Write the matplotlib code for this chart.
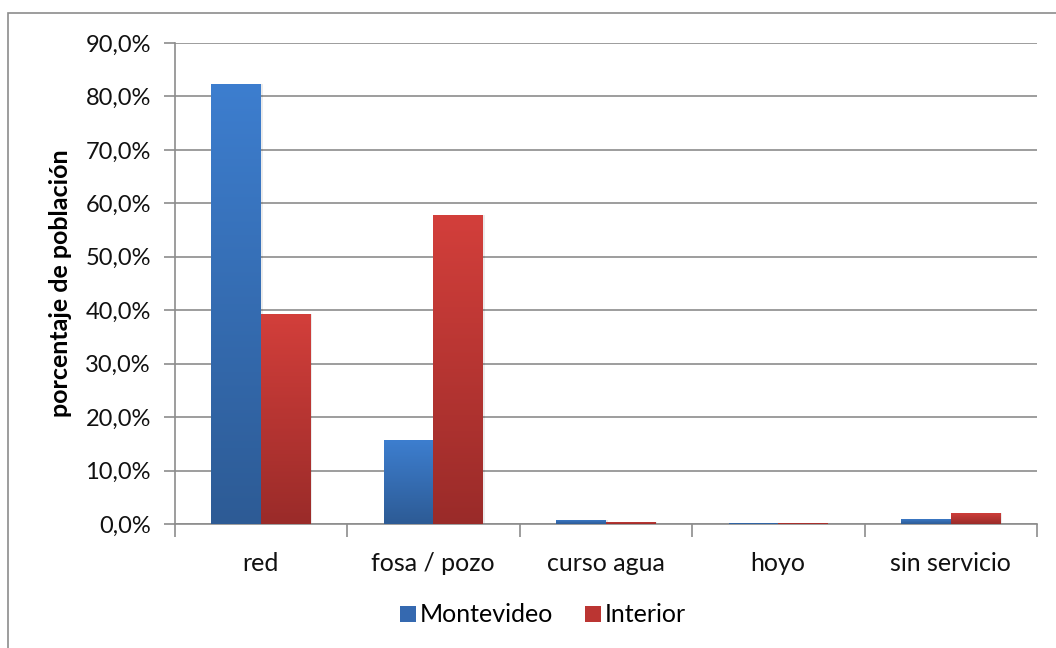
import matplotlib.pyplot as plt
import numpy as np
from matplotlib.colors import LinearSegmentedColormap
from matplotlib.patches import Rectangle
from matplotlib.ticker import FuncFormatter

plt.rcParams['font.family'] = ['Lato', 'DejaVu Sans']

categorias = ['red', 'fosa / pozo', 'curso agua', 'hoyo', 'sin servicio']
montevideo = [82.4, 15.7, 0.8, 0.2, 1.0]
interior = [39.3, 57.9, 0.4, 0.2, 2.1]
series = ['Montevideo', 'Interior']

W, H = 1056, 648
fig = plt.figure(figsize=(W / 100, H / 100), dpi=100)

# outer chart frame (only left/top visible in the picture)
fig.patches.append(Rectangle((8 / W, -0.1), 2, 1.1 - 13 / H, transform=fig.transFigure,
                             fill=False, edgecolor='#8c8c8c', linewidth=1.2))

x0, x1, ytop, ybot = 174.5, 1037.0, 43.0, 524.0
ax = fig.add_axes([x0 / W, 1 - ybot / H, (x1 - x0) / W, (ybot - ytop) / H])

gray = '#8c8c8c'
ax.set_xlim(-0.5, 4.5)
ax.set_ylim(0, 90)
ax.set_yticks(np.arange(0, 91, 10))
ax.yaxis.set_major_formatter(FuncFormatter(lambda v, p: f'{v:.1f}%'.replace('.', ',')))
ax.grid(axis='y', color=gray, linewidth=1.2)
ax.set_axisbelow(True)
for s in ['top', 'right']:
    ax.spines[s].set_visible(False)
for s in ['left', 'bottom']:
    ax.spines[s].set_color(gray)
    ax.spines[s].set_linewidth(1.2)

ax.tick_params(axis='y', length=8, width=1.2, color=gray, labelsize=17, pad=9,
               labelcolor='#111111')
ax.set_xticks(np.arange(5))
ax.set_xticklabels(categorias)
ax.tick_params(axis='x', length=0, labelsize=18, pad=20, labelcolor='#111111')
ax.set_xticks(np.arange(-0.5, 5, 1), minor=True)
ax.tick_params(axis='x', which='minor', length=9, width=1.2, color=gray, direction='out')

ax.set_ylabel('porcentaje de población', fontsize=18, fontweight='bold')
ax.yaxis.set_label_coords(-0.119, 0.5)

bw = 0.287
cmap_blue = LinearSegmentedColormap.from_list('b', ['#2d5b95', '#3d7ecf'])
cmap_red = LinearSegmentedColormap.from_list('r', ['#9a2b29', '#d33f3b'])
grad = np.linspace(0, 1, 256).reshape(-1, 1)

handles = []
for vals, off, cmap, name, mid in [(montevideo, -bw / 2, cmap_blue, series[0], '#3569b0'),
                                   (interior, bw / 2, cmap_red, series[1], '#bb3532')]:
    bars = ax.bar(np.arange(5) + off, vals, width=bw, color='none', edgecolor='none', zorder=3)
    for b in bars:
        bx, by = b.get_x(), b.get_y()
        bh = b.get_height()
        if bh <= 0:
            continue
        # shadow
        ax.add_patch(Rectangle((bx + 0.012, by), bw, bh, facecolor='#000000', alpha=0.08,
                               edgecolor='none', zorder=2))
        im = ax.imshow(grad, cmap=cmap, aspect='auto', origin='lower',
                       extent=(bx, bx + bw, 0, max(bh, 0.01)), zorder=3)
        im.set_clip_path(b)
    handles.append(Rectangle((0, 0), 1, 1, facecolor=mid, edgecolor='none'))

ax.set_xlim(-0.5, 4.5)
ax.set_ylim(0, 90)

fig.legend(handles, series, loc='center', bbox_to_anchor=(0.514, 1 - 615 / H), ncol=2,
           frameon=False, fontsize=18, handlelength=0.62, handleheight=0.62,
           handletextpad=0.15, columnspacing=1.3)

fig.savefig('out.png', dpi=100)
